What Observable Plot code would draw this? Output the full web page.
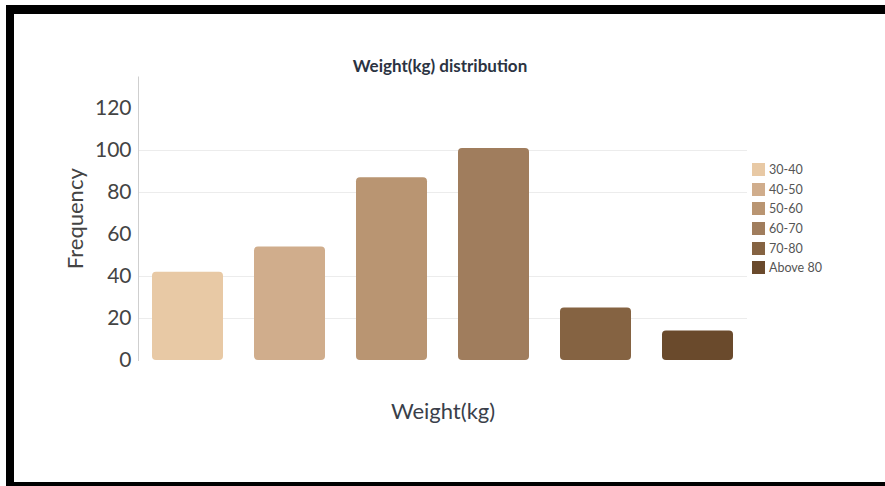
<!DOCTYPE html>
<html>
<head>
<meta charset="utf-8">
<script src="https://cdn.jsdelivr.net/npm/d3@7"></script>
<script src="https://cdn.jsdelivr.net/npm/@observablehq/plot@0.6"></script>
<style>
  html, body { margin: 0; padding: 0; background: #fff; }
  #wrap { position: relative; width: 885px; height: 486px; overflow: hidden; font-family: Lato, "Open Sans", sans-serif; }
  #chart { position: absolute; left: 0; top: 0; }
  .bd { position: absolute; background: #000; z-index: 5; }
  #title { position: absolute; left: 0; width: 880px; top: 55px; text-align: center; font-weight: bold; font-size: 17px; color: #2b3342; }
  #legend { position: absolute; left: 752px; top: 160px; font-size: 12.5px; color: #555; }
  .li { display: flex; align-items: center; height: 19.6px; }
  .sw { width: 13px; height: 13px; margin-right: 4px; }
</style>
</head>
<body>
<div id="wrap">
  <div id="chart"></div>
  <div id="title">Weight(kg) distribution</div>
  <div id="legend"></div>
  <div class="bd" style="left:6px;top:5px;width:879px;height:9px"></div>
  <div class="bd" style="left:6px;top:5px;width:8px;height:481px"></div>
  <div class="bd" style="left:6px;top:482px;width:879px;height:4px"></div>
</div>
<script>
const categories = ["30-40", "40-50", "50-60", "60-70", "70-80", "Above 80"];
const frequencies = [42, 54, 87, 101, 25, 14];
const colors = ["#e8c9a5", "#d0ad8c", "#b99572", "#a07d5d", "#856342", "#6a4a2c"];
const yTicks = [0, 20, 40, 60, 80, 100, 120];
const gridTicks = [20, 40, 80, 100];

const data = categories.map((c, i) => ({cat: c, freq: frequencies[i]}));

const chart = Plot.plot({
  width: 885,
  height: 486,
  marginLeft: 138,
  marginRight: 138,
  marginTop: 76.5,
  marginBottom: 126,
  style: {fontFamily: "Lato, 'Open Sans', sans-serif", background: "transparent", color: "#444"},
  x: {domain: categories, paddingInner: 0.3, paddingOuter: 0.13, axis: null},
  y: {domain: [0, 135]},
  color: {domain: categories, range: colors},
  marks: [
    Plot.gridY(gridTicks, {stroke: "#ececec", strokeOpacity: 1}),
    Plot.frame({anchor: "left", stroke: "#cfcfcf"}),
    Plot.barY(data, {x: "cat", y: "freq", fill: "cat", rx: 4}),
    Plot.axisY(yTicks, {tickSize: 0, tickPadding: 7, fontSize: 21, label: null, fill: "#444"}),
    Plot.text(["Frequency"], {frameAnchor: "left", textAnchor: "middle", rotate: -90, dx: -63, fontSize: 22, fill: "#444"}),
    Plot.text(["Weight(kg)"], {frameAnchor: "bottom", dy: 58, fontSize: 22, fill: "#3a3f4a"})
  ]
});
document.getElementById("chart").appendChild(chart);

const legend = document.getElementById("legend");
categories.forEach((c, i) => {
  const row = document.createElement("div");
  row.className = "li";
  const sw = document.createElement("div");
  sw.className = "sw";
  sw.style.background = colors[i];
  const t = document.createElement("span");
  t.textContent = c;
  row.appendChild(sw);
  row.appendChild(t);
  legend.appendChild(row);
});
</script>
</body>
</html>
